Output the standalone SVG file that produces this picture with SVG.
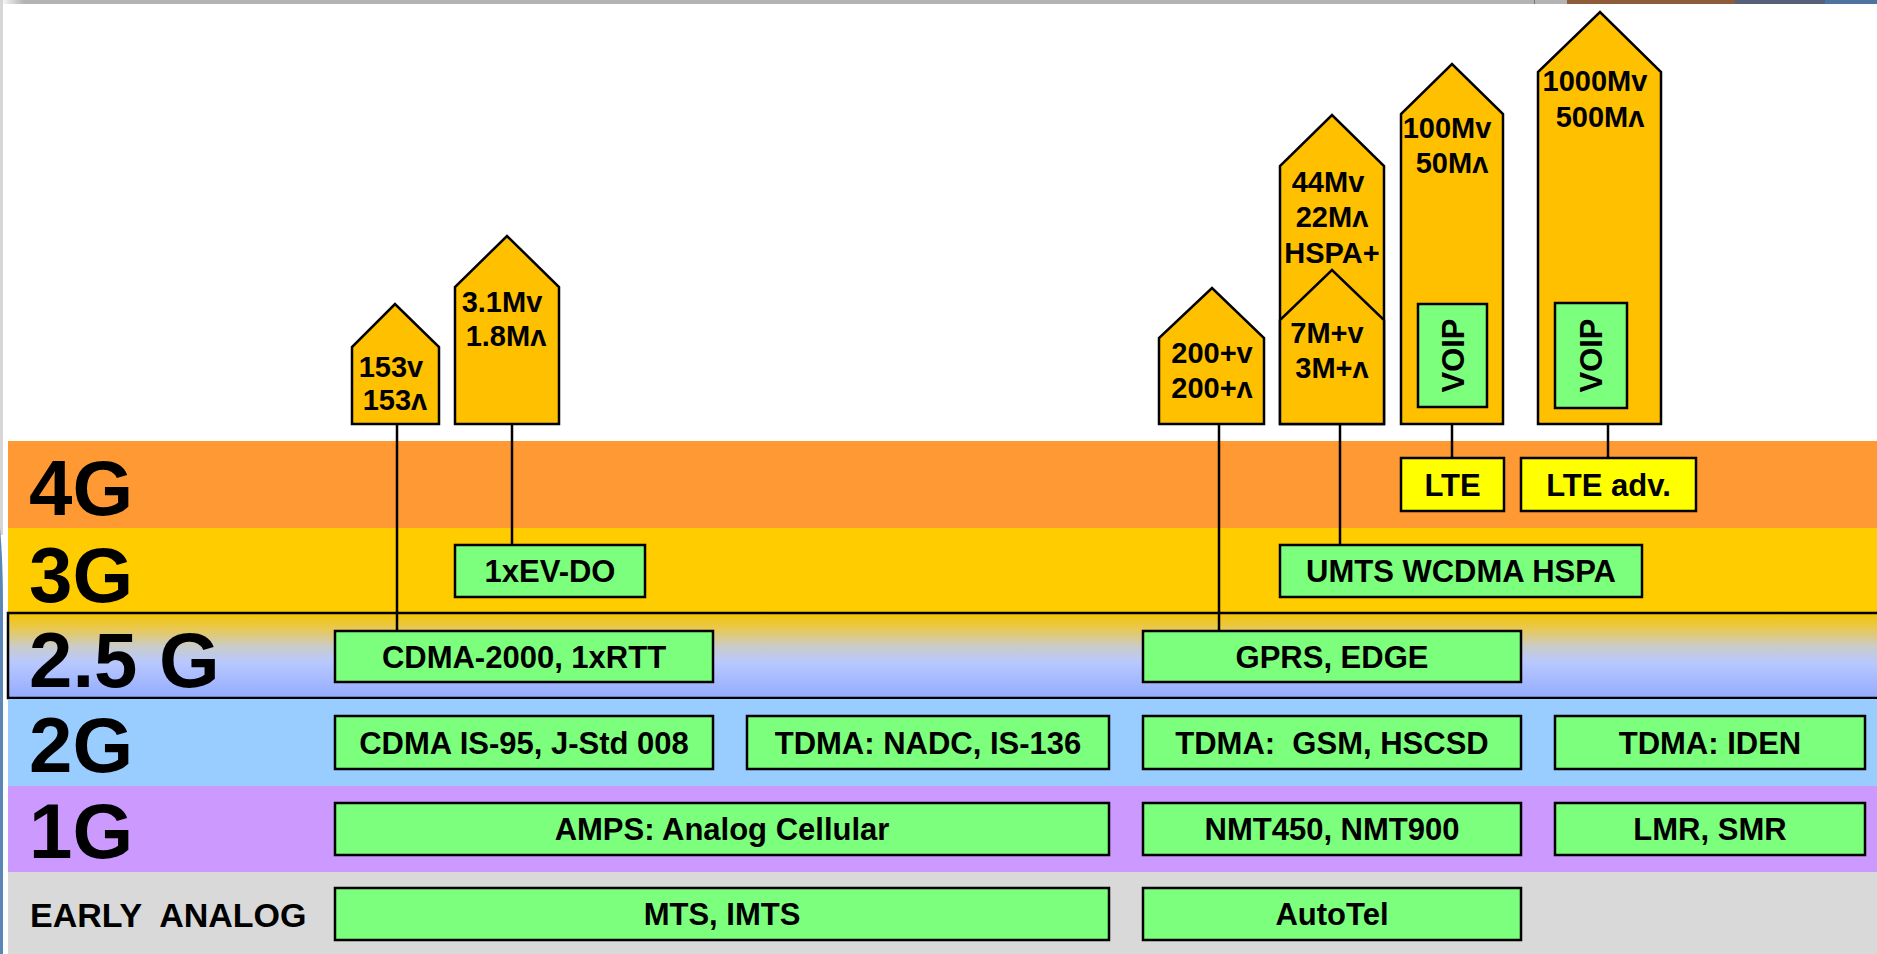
<svg xmlns="http://www.w3.org/2000/svg" width="1877" height="954" viewBox="0 0 1877 954">
<defs>
<linearGradient id="g25" x1="0" y1="0" x2="0" y2="1">
<stop offset="0" stop-color="#F5C400"/>
<stop offset="0.18" stop-color="#E9C850"/>
<stop offset="0.4" stop-color="#C9CCCC"/>
<stop offset="0.58" stop-color="#B8C8FF"/>
<stop offset="1" stop-color="#94ABFF"/>
</linearGradient>
<linearGradient id="topg" x1="0" y1="0" x2="1" y2="0">
<stop offset="0" stop-color="#ffffff"/>
<stop offset="1" stop-color="#b3b3b3"/>
</linearGradient>
<style>
.lbl{font-family:"Liberation Sans",Arial,sans-serif;font-weight:bold;fill:#000}
.big{font-size:78px}
.box{fill:#7CFF7C;stroke:#000;stroke-width:2.5}
.lte{fill:#FFFF00;stroke:#000;stroke-width:2.5}
.bt{font-family:"Liberation Sans",Arial,sans-serif;font-weight:bold;font-size:31px;fill:#000;text-anchor:middle}
.pent{fill:#FFC000;stroke:#000;stroke-width:2.5;stroke-linejoin:miter}
.pt{font-family:"Liberation Sans","DejaVu Sans",Arial,sans-serif;font-weight:bold;font-size:29px;fill:#000;text-anchor:middle}
.con{stroke:#000;stroke-width:2.5;fill:none}
</style>
</defs>
<rect x="0" y="0" width="1877" height="954" fill="#ffffff"/>
<!-- screenshot frame bits -->
<rect x="0" y="0" width="24" height="4" fill="url(#topg)"/>
<rect x="24" y="0" width="1543" height="4" fill="#b3b3b3"/>
<rect x="1534" y="0" width="1" height="4" fill="#777"/>
<rect x="1567" y="0" width="168" height="4" fill="#8E5C3A"/>
<rect x="1735" y="0" width="90" height="4" fill="#566078"/>
<rect x="1825" y="0" width="52" height="4" fill="#4D73A0"/>
<rect x="0" y="0" width="3" height="535" fill="#d6d6d6"/>
<path d="M0,528 Q3,560 3,610 L3,954 L0,954 Z" fill="#5B86B8"/>

<g id="bands">
<rect x="8" y="441" width="1869" height="87" fill="#FF9933"/>
<rect x="8" y="528" width="1869" height="85" fill="#FFCC00"/>
<rect x="8" y="613" width="1880" height="85" fill="url(#g25)" stroke="#000" stroke-width="2.5"/>
<rect x="8" y="699" width="1869" height="87" fill="#99CCFF"/>
<rect x="8" y="786" width="1869" height="86" fill="#CC99FF"/>
<rect x="8" y="872" width="1869" height="82" fill="#D9D9D9"/>
<text class="lbl big" x="29" y="515">4G</text>
<text class="lbl big" x="29" y="602">3G</text>
<text class="lbl big" x="29" y="687">2.5 G</text>
<text class="lbl big" x="29" y="772">2G</text>
<text class="lbl big" x="29" y="858">1G</text>
<text class="lbl" x="30" y="927" font-size="34" xml:space="preserve">EARLY  ANALOG</text>
</g>

<g id="connectors">
<line class="con" x1="397" y1="424" x2="397" y2="631"/>
<line class="con" x1="512" y1="424" x2="512" y2="545"/>
<line class="con" x1="1219" y1="424" x2="1219" y2="630"/>
<line class="con" x1="1340" y1="424" x2="1340" y2="545"/>
<line class="con" x1="1452" y1="424" x2="1452" y2="458"/>
<line class="con" x1="1608" y1="424" x2="1608" y2="458"/>
</g>

<g id="p153">
<polygon class="pent" points="352,424 352,347 395,304 439,347 439,424"/>
<text class="pt" x="391" y="377">153v</text>
<text class="pt" x="395" y="410">153ʌ</text>
</g>
<g id="p31M">
<polygon class="pent" points="455,424 455,287 507,236 559,287 559,424"/>
<text class="pt" x="502" y="312">3.1Mv</text>
<text class="pt" x="506" y="346">1.8Mʌ</text>
</g>
<g id="p200">
<polygon class="pent" points="1159,424 1159,338 1212,288 1264,338 1264,424"/>
<text class="pt" x="1212" y="363">200+v</text>
<text class="pt" x="1212" y="398">200+ʌ</text>
</g>
<g id="pHSPAplus">
<polygon class="pent" points="1280,424 1280,166 1332,115 1384,166 1384,424"/>
<text class="pt" x="1328" y="192">44Mv</text>
<text class="pt" x="1332" y="227">22Mʌ</text>
<text class="pt" x="1332" y="263">HSPA+</text>
</g>
<g id="p7M">
<polygon class="pent" points="1280,424 1280,320 1332,270 1384,320 1384,424"/>
<text class="pt" x="1327" y="343">7M+v</text>
<text class="pt" x="1332" y="378">3M+ʌ</text>
</g>
<g id="p100M">
<polygon class="pent" points="1401,424 1401,114 1452,64 1503,114 1503,424"/>
<text class="pt" x="1447" y="138">100Mv</text>
<text class="pt" x="1452" y="173">50Mʌ</text>
<rect class="box" x="1418" y="304" width="69" height="103"/>
<text class="bt" transform="translate(1453,355.5) rotate(-90)" y="11">VOIP</text>
</g>
<g id="p1000M">
<polygon class="pent" points="1538,424 1538,72 1600,12 1661,72 1661,424"/>
<text class="pt" x="1595" y="91">1000Mv</text>
<text class="pt" x="1600" y="127">500Mʌ</text>
<rect class="box" x="1555" y="303" width="72" height="105"/>
<text class="bt" transform="translate(1591,355.5) rotate(-90)" y="11">VOIP</text>
</g>

<g id="lte"><rect class="lte" x="1401" y="458" width="103" height="53"/><text class="bt" x="1452.5" y="496">LTE</text></g>
<g id="lteadv"><rect class="lte" x="1521" y="458" width="175" height="53"/><text class="bt" x="1608.5" y="496">LTE adv.</text></g>

<g id="evdo"><rect class="box" x="455" y="545" width="190" height="52"/><text class="bt" x="550" y="582">1xEV-DO</text></g>
<g id="umts"><rect class="box" x="1280" y="545" width="362" height="52"/><text class="bt" x="1461" y="582">UMTS WCDMA HSPA</text></g>

<g id="cdma2000"><rect class="box" x="335" y="631" width="378" height="51"/><text class="bt" x="524" y="667.5">CDMA-2000, 1xRTT</text></g>
<g id="gprs"><rect class="box" x="1143" y="631" width="378" height="51"/><text class="bt" x="1332" y="667.5">GPRS, EDGE</text></g>

<g id="cdmais95"><rect class="box" x="335" y="716" width="378" height="53"/><text class="bt" x="524" y="753.5">CDMA IS-95, J-Std 008</text></g>
<g id="nadc"><rect class="box" x="747" y="716" width="362" height="53"/><text class="bt" x="928" y="753.5">TDMA: NADC, IS-136</text></g>
<g id="gsm"><rect class="box" x="1143" y="716" width="378" height="53"/><text class="bt" x="1332" y="753.5" xml:space="preserve">TDMA:  GSM, HSCSD</text></g>
<g id="iden"><rect class="box" x="1555" y="716" width="310" height="53"/><text class="bt" x="1710" y="753.5">TDMA: IDEN</text></g>

<g id="amps"><rect class="box" x="335" y="803" width="774" height="52"/><text class="bt" x="722" y="840">AMPS: Analog Cellular</text></g>
<g id="nmt"><rect class="box" x="1143" y="803" width="378" height="52"/><text class="bt" x="1332" y="840">NMT450, NMT900</text></g>
<g id="lmr"><rect class="box" x="1555" y="803" width="310" height="52"/><text class="bt" x="1710" y="840">LMR, SMR</text></g>

<g id="mts"><rect class="box" x="335" y="888" width="774" height="52"/><text class="bt" x="722" y="925">MTS, IMTS</text></g>
<g id="autotel"><rect class="box" x="1143" y="888" width="378" height="52"/><text class="bt" x="1332" y="925">AutoTel</text></g>
</svg>
